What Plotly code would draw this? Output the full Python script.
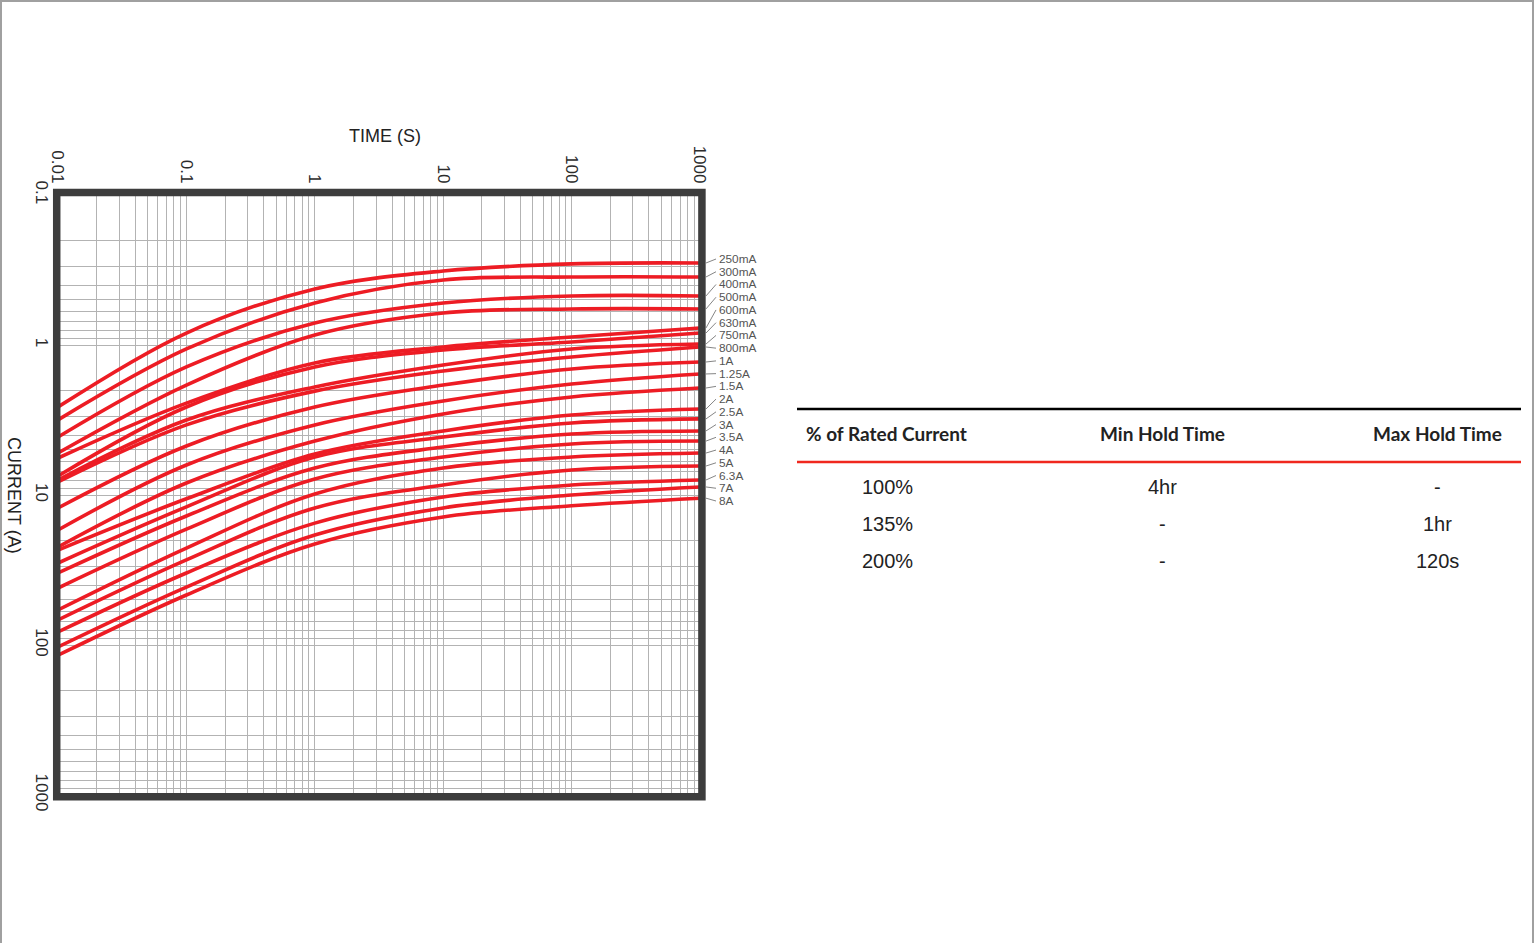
import math
import plotly.graph_objects as go

# ---------------- data ----------------
TIME_S = [0.01, 0.1, 1, 10, 100, 1000]
RATINGS = ["250mA", "300mA", "400mA", "500mA", "600mA", "630mA", "750mA", "800mA",
           "1A", "1.25A", "1.5A", "2A", "2.5A", "3A", "3.5A", "4A", "5A", "6.3A", "7A", "8A"]

# current (A) of each rating curve at the decade times
I_AT_0_01S = [2.59, 3.16, 4.11, 5.25, 5.67, 7.47, 7.94, 8.19, 12.2, 17.1, 22.2, 23.3, 28.4, 33.1, 41.7, 58.4, 68.1, 81.9, 103, 117]
I_AT_0_1S = [0.832, 1.063, 1.40, 1.85, 2.44, 2.59, 3.16, 3.41, 4.71, 6.31, 8.32, 10.6, 12.0, 13.8, 16.9, 22.6, 27.1, 33.1, 41.1, 46.4]
I_AT_1S = [0.423, 0.525, 0.714, 0.858, 1.318, 1.40, 1.905, 2.03, 2.59, 3.41, 4.37, 5.33, 5.58, 6.61, 7.82, 9.85, 12.2, 15.4, 18.5, 21.2]
I_AT_10S = [0.321, 0.369, 0.525, 0.612, 1.031, 1.080, 1.36, 1.49, 1.85, 2.36, 2.88, 3.74, 4.11, 4.79, 5.58, 6.61, 8.58, 10.3, 12.2, 14.0]
I_AT_100S = [0.288, 0.352, 0.471, 0.575, 0.885, 0.955, 1.063, 1.202, 1.445, 1.82, 2.22, 2.93, 3.31, 3.92, 4.57, 5.58, 6.81, 8.58, 10.0, 11.8]
I_AT_1000S = [0.284, 0.352, 0.471, 0.575, 0.770, 0.832, 0.985, 1.031, 1.298, 1.56, 1.935, 2.67, 3.11, 3.74, 4.37, 5.25, 6.41, 7.94, 8.84, 10.5]

X_DECADES = [0.01, 0.1, 1, 10, 100, 1000]
X_TICK_TEXT = ["0.01", "0.1", "1", "10", "100", "1000"]
Y_DECADES = [0.1, 1, 10, 100, 1000]
Y_TICK_TEXT = ["0.1", "1", "10", "100", "1000"]

TABLE_HEADERS = ["% of Rated Current", "Min Hold Time", "Max Hold Time"]
TABLE_COL_PCT = ["100%", "135%", "200%"]
TABLE_COL_MIN = ["4hr", "-", "-"]
TABLE_COL_MAX = ["-", "1hr", "120s"]

# ---------------- layout geometry ----------------
W, H = 1536, 943
ML, MR, MT, MB = 58, 836, 195, 148
PW, PH = W - ML - MR, H - MT - MB


def px_x(px):
    return (px - ML) / PW


def px_y(py):
    return (H - MB - py) / PH


def y_paper_of(val):
    # y axis: log range [3, -1] reversed, 0.1 at top
    return (3 - math.log10(val)) / 4.0


RED = "#ed1c24"
FONT = "Liberation Sans, Arial, sans-serif"

fig = go.Figure()

cols = [I_AT_0_01S, I_AT_0_1S, I_AT_1S, I_AT_10S, I_AT_100S, I_AT_1000S]
for i, name in enumerate(RATINGS):
    fig.add_trace(go.Scatter(
        x=TIME_S, y=[c[i] for c in cols], mode="lines", name=name,
        line=dict(color=RED, width=3.6, shape="spline", smoothing=1.0),
        showlegend=False, hoverinfo="skip"))


def all_minor(decs):
    vals = []
    for d in decs[:-1]:
        for k in range(1, 10):
            vals.append(d * k)
    vals.append(decs[-1])
    return vals


def labels_for(vals, decs, texts):
    out = []
    for v in vals:
        lab = ""
        for d, t in zip(decs, texts):
            if abs(v - d) < 1e-9 * max(1, d):
                lab = t
        out.append(lab)
    return out


xv = all_minor(X_DECADES)
yv = all_minor(Y_DECADES)

fig.update_xaxes(type="log", range=[-2, 3], side="top", tickvals=xv,
                 ticktext=labels_for(xv, X_DECADES, X_TICK_TEXT), tickangle=90,
                 showgrid=True, gridcolor="#b3b3b3", gridwidth=1, zeroline=False,
                 showline=False, ticks="", ticklabelstandoff=8,
                 tickfont=dict(family=FONT, size=17, color="#2b2b2b"))
fig.update_yaxes(type="log", range=[3, -1], tickvals=yv,
                 ticktext=labels_for(yv, Y_DECADES, Y_TICK_TEXT), tickangle=90,
                 showgrid=True, gridcolor="#b3b3b3", gridwidth=1, zeroline=False,
                 showline=False, ticks="", ticklabelstandoff=4,
                 tickfont=dict(family=FONT, size=17, color="#2b2b2b"))

shapes = []
annotations = []

# thick frame
shapes.append(dict(type="rect", xref="x domain", yref="y domain", x0=-0.002, x1=1.003,
                   y0=-0.003, y1=1.004, line=dict(color="#3d3d3d", width=7.5)))

# curve labels with leader lines
n = len(RATINGS)
lab_top, lab_bot = 259, 501
for i, name in enumerate(RATINGS):
    ly = lab_top + (lab_bot - lab_top) * i / (n - 1)
    cy = y_paper_of(I_AT_1000S[i])
    shapes.append(dict(type="line", xref="paper", yref="paper",
                       x0=px_x(706), x1=px_x(716), y0=cy, y1=px_y(ly),
                       line=dict(color="#666666", width=0.8)))
    annotations.append(dict(text=name, xref="paper", yref="paper", x=px_x(717), y=px_y(ly),
                            xanchor="left", yanchor="middle", showarrow=False,
                            font=dict(family=FONT, size=11.8, color="#555555")))

# axis titles
annotations.append(dict(text="TIME (S)", xref="paper", yref="paper", x=px_x(385), y=px_y(136),
                        xanchor="center", yanchor="middle", showarrow=False,
                        font=dict(family=FONT, size=18, color="#222222")))
annotations.append(dict(text="CURRENT (A)", xref="paper", yref="paper", x=px_x(14), y=px_y(495),
                        xanchor="center", yanchor="middle", showarrow=False, textangle=90,
                        font=dict(family=FONT, size=18, color="#222222")))

# table
shapes.append(dict(type="line", xref="paper", yref="paper", x0=px_x(797), x1=px_x(1521),
                   y0=px_y(409), y1=px_y(409), line=dict(color="#000000", width=2.5)))
shapes.append(dict(type="line", xref="paper", yref="paper", x0=px_x(797), x1=px_x(1521),
                   y0=px_y(462), y1=px_y(462), line=dict(color="#f0281e", width=2.5)))
HFONT = dict(family="Lato, Open Sans, sans-serif", size=19, color="#222222")
annotations.append(dict(text="<b>" + TABLE_HEADERS[0] + "</b>", xref="paper", yref="paper",
                        x=px_x(804), y=px_y(433), xanchor="left", yanchor="middle",
                        showarrow=False, font=HFONT))
annotations.append(dict(text="<b>" + TABLE_HEADERS[1] + "</b>", xref="paper", yref="paper",
                        x=px_x(1162), y=px_y(433), xanchor="center", yanchor="middle",
                        showarrow=False, font=HFONT))
annotations.append(dict(text="<b>" + TABLE_HEADERS[2] + "</b>", xref="paper", yref="paper",
                        x=px_x(1437), y=px_y(433), xanchor="center", yanchor="middle",
                        showarrow=False, font=HFONT))
row_y = [487, 524, 561]
col_x = [887, 1162, 1437]
for r in range(3):
    for cx, col in zip(col_x, [TABLE_COL_PCT, TABLE_COL_MIN, TABLE_COL_MAX]):
        annotations.append(dict(text=col[r], xref="paper", yref="paper", x=px_x(cx), y=px_y(row_y[r]),
                                xanchor="center", yanchor="middle", showarrow=False,
                                font=dict(family=FONT, size=20, color="#222222")))

# page border
shapes.append(dict(type="rect", xref="paper", yref="paper", x0=px_x(1), x1=px_x(1533),
                   y0=px_y(960), y1=px_y(1), line=dict(color="#a0a0a0", width=2)))

fig.update_layout(width=W, height=H, margin=dict(l=ML, r=MR, t=MT, b=MB, pad=0),
                  paper_bgcolor="white", plot_bgcolor="white",
                  shapes=shapes, annotations=annotations, showlegend=False)

fig.write_html("out.html", config={"displayModeBar": False},
               post_script="document.body.style.margin='0';document.body.style.overflow='hidden';")
